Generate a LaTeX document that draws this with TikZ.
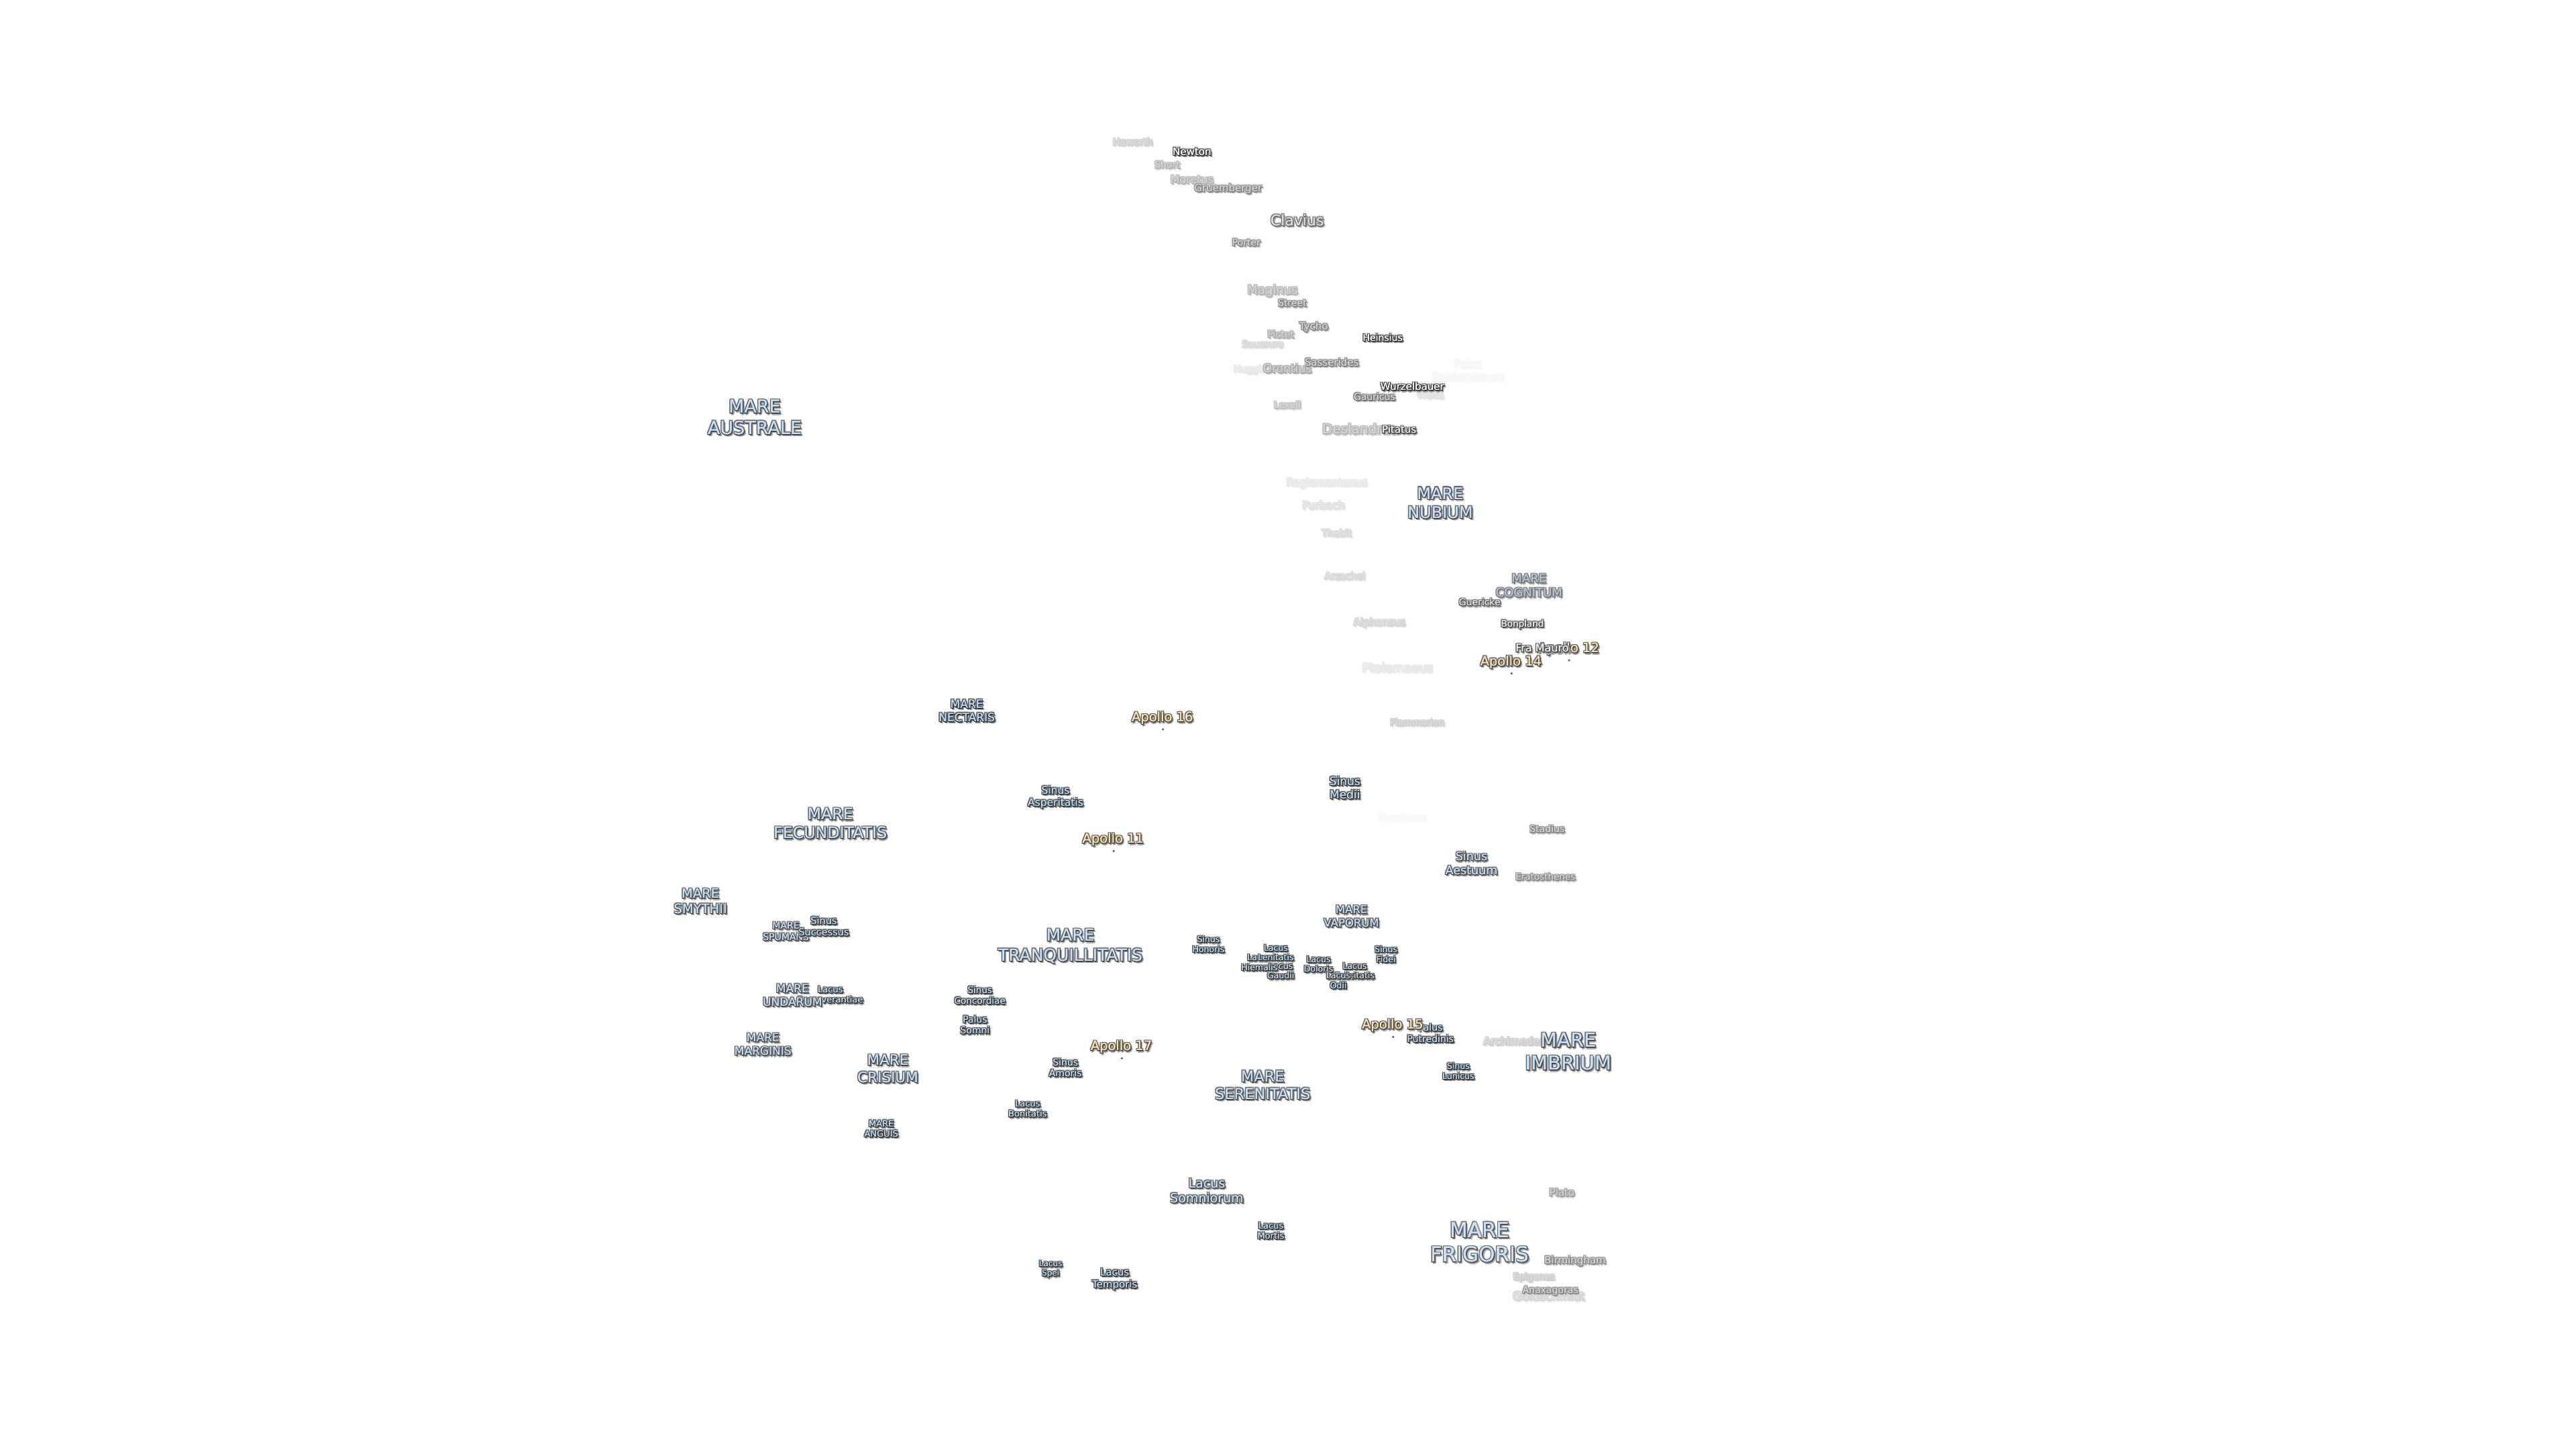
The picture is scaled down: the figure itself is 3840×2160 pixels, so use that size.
\documentclass[tikz,border=0pt]{standalone}
\usepackage{fontspec}
\setmainfont{DejaVu Sans}
\definecolor{seafill}{HTML}{BFDCF7}
\definecolor{apfill}{HTML}{FFE0A6}
\definecolor{cogfill}{HTML}{98ABC0}
\newsavebox{\lblbox}
\newcommand{\cpy}[3]{\rlap{\kern#1pt\raisebox{#2pt}{\color{#3}\usebox{\lblbox}}}}
% #1 text, #2 size, #3 opacity percent, #4 fill colour (already mixed)
\newcommand{\halo}[4]{%
  \pgfmathsetmacro{\lh}{#2*1.17}%
  \setbox\lblbox=\hbox{\fontsize{#2}{\lh}\selectfont\begin{tabular}{@{}c@{}}#1\end{tabular}}%
  \pgfmathsetmacro{\fa}{#3*0.34}\pgfmathsetmacro{\fb}{#3*0.72}\pgfmathsetmacro{\fc}{#3*0.9}%
  \cpy{2.5}{-3}{black!\fa!white}\cpy{3}{-2}{black!\fa!white}\cpy{1.5}{-3.5}{black!\fa!white}\cpy{3.5}{-3}{black!\fa!white}\cpy{-1.5}{1.5}{black!\fa!white}\cpy{-1.5}{-1.5}{black!\fa!white}\cpy{2}{1.5}{black!\fa!white}%
  \cpy{2}{-2}{black!\fb!white}\cpy{1.5}{-1}{black!\fb!white}\cpy{1}{-2}{black!\fb!white}\cpy{-1}{-1}{black!\fb!white}\cpy{1}{1}{black!\fb!white}\cpy{-1}{1}{black!\fb!white}%
  \cpy{0.8}{-0.8}{black!\fb!white}\cpy{1}{0}{black!\fc!white}\cpy{0}{-1}{black!\fc!white}\cpy{-0.6}{0}{black!\fb!white}\cpy{0}{0.6}{black!\fb!white}%
  \cpy{0.35}{0}{#4}\color{#4}\usebox{\lblbox}}
\newcommand{\cratfill}[1]{\pgfmathsetmacro{\gf}{(100-#1)*#1/100*0.7}\colorlet{cratfillc}{black!\gf!white}}
\tikzset{lbl/.style={inner sep=0pt,outer sep=0pt},
  apdot/.style={circle,inner sep=0pt,minimum size=3.5pt,fill=black!65}}
\newcommand{\crat}[5]{\node[lbl] (#1) at (#2*2.4507,#3*2.4507+3.5) {\cratfill{#5}\halo{#1}{#4}{#5}{cratfillc}};}
\newcommand{\cratn}[6]{\node[lbl] (#1) at (#2*2.4507,#3*2.4507+3.5) {\cratfill{#5}\halo{#6}{#4}{#5}{cratfillc}};}
\newcommand{\sea}[6]{\node[lbl] (#1) at (#2*2.4507,#3*2.4507+3.5) {\halo{#6}{#4}{#5}{seafill!#5!white}};}
\newcommand{\apo}[4]{\node[lbl] (ap#1) at (#2*2.4507,#3*2.4507+3.5) {\halo{Apollo #1}{19.5}{90}{apfill!90!white}};\node[apdot] (dot#1) at (#2*2.4507+1,#3*2.4507+3.5+#4) {};}
\begin{document}
\begin{tikzpicture}[x=1pt,y=-1pt]
\useasboundingbox (0,0) rectangle (3840,2160);
\crat{Murchison}{853}{497}{14}{3}
\cratn{Palus}{893}{225}{16}{4}{Palus\\Epidemiarum}
\crat{Huggins}{762}{224}{14}{12}
\crat{Weiss}{870}{240}{14}{15}
\crat{Regiomontanus}{807}{293}{15.5}{12}
\crat{Ptolemaeus}{850}{406}{18}{12}
\crat{Purbach}{805}{307}{15.5}{15}
\crat{Thebit}{813}{324}{14}{20}
\crat{Arzachel}{818}{350}{14}{20}
\crat{Alphonsus}{839}{378}{15}{22}
\crat{Saussure}{768}{209}{13.5}{20}
\crat{Flammarion}{862}{439}{13.5}{25}
\crat{Haworth}{689}{86}{14}{25}
\crat{Epigenes}{933}{776}{13.5}{25}
\crat{Goldschmidt}{942}{788}{17}{22}
\crat{Archimedes}{921}{633}{15.5}{25}
\crat{Deslandres}{827}{261}{20}{38}
\crat{Lexell}{783}{246}{14}{32}
\crat{Maginus}{774}{176}{18}{38}
\crat{Moretus}{725}{109}{16}{38}
\crat{Short}{710}{100}{14}{38}
\crat{Orontius}{783}{224}{17}{45}
\crat{Pictet}{779}{203}{14}{42}
\crat{Plato}{950}{725}{15}{50}
\crat{Gruemberger}{747}{114}{15}{62}
\crat{Porter}{758}{147}{14}{60}
\crat{Street}{786}{184}{14}{62}
\crat{Tycho}{799}{198}{15}{62}
\crat{Sasserides}{810}{220}{15}{62}
\crat{Stadius}{941}{504}{14}{60}
\crat{Eratosthenes}{940}{533}{13.5}{60}
\crat{Birmingham}{958}{766}{15}{60}
\crat{Anaxagoras}{943}{784}{14}{60}
\crat{Clavius}{789}{134}{22}{75}
\crat{Gauricus}{836}{241}{14}{70}
\crat{Guericke}{900}{366}{14}{80}
\crat{Newton}{725}{92}{15}{100}
\crat{Heinsius}{841}{205}{14}{100}
\crat{Wurzelbauer}{859}{235}{15}{100}
\crat{Pitatus}{851}{261}{15}{90}
\crat{Bonpland}{926}{379}{13.5}{90}
\sea{Australe}{459}{254}{27}{90}{MARE\\AUSTRALE}
\sea{Nubium}{876}{306}{24}{90}{MARE\\NUBIUM}
\node[lbl] (Cognitum) at (930*2.4507,356*2.4507+3.5) {\halo{MARE\\COGNITUM}{18}{70}{cogfill!70!white}};
\sea{Nectaris}{588}{432}{17}{100}{MARE\\NECTARIS}
\sea{Asperitatis}{642}{484}{15.5}{100}{Sinus\\Asperitatis}
\sea{Medii}{818}{479}{17}{100}{Sinus\\Medii}
\sea{Fecunditatis}{505}{501}{23.7}{90}{MARE\\FECUNDITATIS}
\sea{Smythii}{426}{548}{19.5}{90}{MARE\\SMYTHII}
\sea{Spumans}{478}{566}{14}{90}{MARE\\SPUMANS}
\sea{Successus}{501}{563}{14.5}{100}{Sinus\\Successus}
\sea{Perseverantiae}{505}{604.5}{13}{100}{Lacus\\Perseverantiae}
\sea{Undarum}{482}{605}{17}{90}{MARE\\UNDARUM}
\sea{Tranquillitatis}{651}{575}{25}{90}{MARE\\TRANQUILLITATIS}
\sea{Concordiae}{596}{605}{13.5}{100}{Sinus\\Concordiae}
\sea{Somni}{593}{623}{14}{100}{Palus\\Somni}
\sea{Marginis}{464}{635}{17}{90}{MARE\\MARGINIS}
\sea{Crisium}{540}{650}{21.5}{90}{MARE\\CRISIUM}
\sea{Amoris}{648}{649}{14}{100}{Sinus\\Amoris}
\sea{Bonitatis}{625}{674}{13}{100}{Lacus\\Bonitatis}
\sea{Anguis}{536}{686}{13}{100}{MARE\\ANGUIS}
\sea{Serenitatis}{768}{660}{22.5}{90}{MARE\\SERENITATIS}
\sea{Vaporum}{822}{557}{16.5}{90}{MARE\\VAPORUM}
\sea{Aestuum}{895}{525}{17.5}{90}{Sinus\\Aestuum}
\sea{Honoris}{735}{574}{12.5}{100}{Sinus\\Honoris}
\sea{Gaudii}{779}{590}{12.5}{100}{Lacus\\Gaudii}
\sea{Hiemalis}{766}{585}{12.5}{100}{Lacus\\Hiemalis}
\sea{Lenitatis}{776}{579}{12.5}{100}{Lacus\\Lenitatis}
\sea{Doloris}{802}{586}{12.5}{100}{Lacus\\Doloris}
\sea{Felicitatis}{824}{590}{12.5}{100}{Lacus\\Felicitatis}
\sea{Odii}{814}{596}{12.5}{100}{Lacus\\Odii}
\sea{Fidei}{843}{580}{12.5}{100}{Sinus\\Fidei}
\sea{Putredinis}{870}{628}{14}{100}{Palus\\Putredinis}
\sea{Lunicus}{887}{651}{12.5}{100}{Sinus\\Lunicus}
\sea{Imbrium}{954}{640}{29}{90}{MARE\\IMBRIUM}
\sea{Somniorum}{734}{724}{19}{90}{Lacus\\Somniorum}
\sea{Mortis}{773}{748}{13}{100}{Lacus\\Mortis}
\sea{Spei}{639}{771}{12}{100}{Lacus\\Spei}
\sea{Temporis}{678}{777}{15}{100}{Lacus\\Temporis}
\sea{Frigoris}{900}{756}{31}{85}{MARE\\FRIGORIS}
\apo{12}{954}{394}{15}
\apo{14}{919}{402}{15}
\apo{16}{707}{436}{15}
\apo{11}{677}{510}{15}
\apo{17}{682}{636}{15}
\apo{15}{847}{623}{15}
\cratn{FraMauro}{938}{394}{16}{90}{Fra Mauro}
\end{tikzpicture}
\end{document}
